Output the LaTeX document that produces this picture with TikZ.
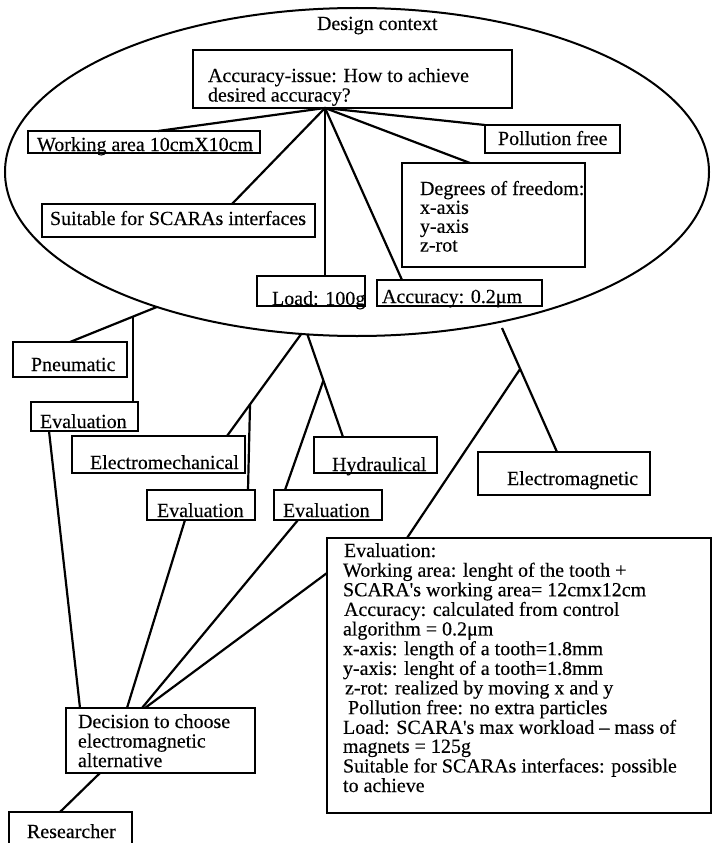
\documentclass[tikz,border=0pt]{standalone}
\usepackage{fontspec}
\setmainfont{Liberation Serif}[FakeBold=0.3]
\newfontfamily\scanfont{Liberation Serif}[FakeBold=0.3]
\usetikzlibrary{shapes.geometric,calc}
\tikzset{
  box/.style 2 args={draw, line width=2pt, rectangle, inner sep=0pt, outer sep=0pt, minimum width=#1, minimum height=#2},
  txt/.style={inner sep=0pt, outer sep=0pt, font=\scanfont\fontsize{20}{18.8}\selectfont, anchor=base west},
  conn/.style={line width=2.2pt},
}
\newcommand{\mylines}[1]{\begin{tabular}[t]{@{}l@{}}#1\end{tabular}}
\begin{document}
\begin{tikzpicture}[x=1pt,y=-1pt]
\useasboundingbox (0,0) rectangle (713,843);
% context ellipse
\node[draw, ellipse, line width=2pt, minimum width=704pt, minimum height=328pt, inner sep=0pt, outer sep=0pt] (ctx) at (357,172) {};
\node[txt] (tctx) at (317,30) {Design context};
% boxes inside
\node[box={319pt}{58pt}] (acc) at (352.5,79) {};
\node[txt] (tacc) at (208,82) {\mylines{Accuracy-issue: How to achieve\\desired accuracy?}};
\node[box={232pt}{22pt}] (wa) at (144,142) {};
\node[txt] (twa) at (37,151) {Working area 10cmX10cm};
\node[box={273pt}{33pt}] (suit) at (178.5,220.5) {};
\node[txt] (tsuit) at (50,225) {Suitable for SCARAs interfaces};
\node[box={108pt}{30pt}] (load) at (311,291) {};
\node[txt] (tload) at (272,305) {Load: 100g};
\node[box={165pt}{26pt}] (accu) at (459.5,293) {};
\node[txt] (taccu) at (382,303) {Accuracy: 0.2μm};
\node[box={183pt}{104pt}] (dof) at (493.5,215) {};
\node[txt] (tdof) at (420,195) {\mylines{Degrees of freedom:\\x-axis\\y-axis\\z-rot}};
\node[box={135pt}{28pt}] (poll) at (552.5,139) {};
\node[txt] (tpoll) at (498,145) {Pollution free};
% connectors inside
\coordinate (hub) at (325,108);
\draw[conn] (hub) -- ([xshift=14pt]wa.north);
\draw[conn] (hub) -- ([xshift=53.5pt]suit.north);
\draw[conn] (hub) -- (hub |- load.north);
\draw[conn] (hub) -- ([xshift=25pt]accu.north west);
\draw[conn] (hub) -- ([xshift=68pt]dof.north west);
\draw[conn] (hub) -- (poll.north west);
% alternatives
\node[box={114pt}{35pt}] (pneu) at (70,359.5) {};
\node[txt] (tpneu) at (31,371) {Pneumatic};
\node[box={107pt}{29pt}] (ev1) at (84.5,416.5) {};
\node[txt] (tev1) at (40,428) {Evaluation};
\node[box={173pt}{37pt}] (emech) at (158.5,454.5) {};
\node[txt] (temech) at (90,469) {Electromechanical};
\node[box={108pt}{30pt}] (ev2) at (201,505) {};
\node[txt] (tev2) at (157,517) {Evaluation};
\node[box={123pt}{36pt}] (hyd) at (375.5,455) {};
\node[txt] (thyd) at (332,471) {Hydraulical};
\node[box={108pt}{30pt}] (ev3) at (328,505) {};
\node[txt] (tev3) at (283,517) {Evaluation};
\node[box={172pt}{43pt}] (emag) at (564,473.5) {};
\node[txt] (temag) at (507,485) {Electromagnetic};
\node[box={384pt}{275pt}] (evbig) at (519,675.5) {};
\node[txt] (tevbig) at (343,557) {\mylines{%
\hspace*{1pt}Evaluation:\\
Working area: lenght of the tooth +\\
SCARA's working area= 12cmx12cm\\
\hspace*{1pt}Accuracy: calculated from control\\
algorithm = 0.2μm\\
x-axis: length of a tooth=1.8mm\\
y-axis: lenght of a tooth=1.8mm\\
\hspace*{2pt}z-rot: realized by moving x and y\\
\hspace*{5pt}Pollution free: no extra particles\\
Load: SCARA's max workload – mass of\\
magnets = 125g\\
Suitable for SCARAs interfaces: possible\\
to achieve}};
\node[box={189pt}{65pt}] (dec) at (160.5,740.5) {};
\node[txt] (tdec) at (78,728) {\mylines{Decision to choose\\electromagnetic\\alternative}};
\node[box={123pt}{40pt}] (res) at (70.5,832) {};
\node[txt] (tres) at (27,838) {Researcher};
% connectors from context
\coordinate (e1) at (ctx.214.6);
\coordinate (e2) at (ctx.251.4);
\coordinate (e3) at (ctx.253.9);
\coordinate (e4) at (502,328);
\draw[conn] (e1) -- (pneu.north);
\coordinate (b1) at ($(e1)!0.28!(pneu.north)$);
\draw[conn] (b1) -- (b1 |- ev1.north);
\draw[conn] (e2) -- ([xshift=68.5pt]emech.north);
\coordinate (b2) at ($(e2)!0.69!([xshift=68.5pt]emech.north)$);
\draw[conn] (b2) -- ([xshift=47pt]ev2.north);
\draw[conn] (e3) -- ([xshift=-32.5pt]hyd.north);
\coordinate (b3) at ($(e3)!0.45!([xshift=-32.5pt]hyd.north)$);
\draw[conn] (b3) -- ([xshift=-43pt]ev3.north);
\draw[conn] (e4) -- ([xshift=-7pt]emag.north);
\coordinate (b4) at ($(e4)!0.33!([xshift=-7pt]emag.north)$);
\draw[conn] (b4) -- ([xshift=80pt]evbig.north west);
% to decision
\draw[conn] ([xshift=18pt]ev1.south west) -- ([xshift=14pt]dec.north west);
\draw[conn] ([xshift=38pt]ev2.south west) -- ([xshift=61pt]dec.north west);
\draw[conn] ([xshift=24pt]ev3.south west) -- ([xshift=76pt]dec.north west);
\draw[conn] ([yshift=-35pt]evbig.north west) -- ([xshift=79pt]dec.north west);
\draw[conn] ([xshift=34pt]dec.south west) -- ([xshift=51pt]res.north west);
\end{tikzpicture}
\end{document}
